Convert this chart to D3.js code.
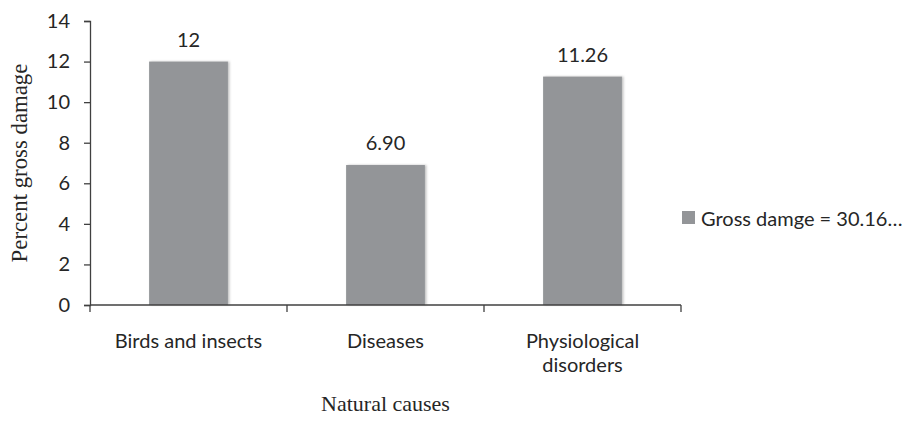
<!DOCTYPE html>
<html>
<head>
<meta charset="utf-8">
<script src="https://cdn.jsdelivr.net/npm/d3@7"></script>
<style>
  html, body { margin: 0; padding: 0; background: #fff; }
  svg { display: block; }
</style>
</head>
<body>
<svg id="chart" width="905" height="421"></svg>
<script>
// Natural causes of gross damage
const categories = ["Birds and insects", "Diseases", "Physiological disorders"];
const categoryLines = [["Birds and insects"], ["Diseases"], ["Physiological", "disorders"]];
const values = [12, 6.90, 11.26];
const valueLabels = ["12", "6.90", "11.26"];
const yTicks = [0, 2, 4, 6, 8, 10, 12, 14];
const seriesName = "Gross damge = 30.16\u2026";

const sansFont = "Lato, 'Open Sans', sans-serif";
const serifFont = "'Liberation Serif', 'DejaVu Serif', serif";
const textColor = "#262626";
const axisColor = "#404040";
const barColor = "#939598";
const sansSize = 20;

const svg = d3.select("#chart");
const plot = { left: 90, right: 681, top: 21, bottom: 305 };

const x = d3.scaleBand()
  .domain(categories)
  .range([plot.left, plot.right])
  .paddingInner(0.6)
  .paddingOuter(0.3);

const y = d3.scaleLinear()
  .domain([0, 14])
  .range([plot.bottom, plot.top]);

// soft shadow on bar edges
const defs = svg.append("defs");
const shadow = defs.append("filter").attr("id", "barShadow")
  .attr("x", "-10%").attr("y", "-10%").attr("width", "130%").attr("height", "120%");
shadow.append("feDropShadow")
  .attr("dx", 1.5).attr("dy", 0).attr("stdDeviation", 1.2)
  .attr("flood-color", "#000").attr("flood-opacity", 0.25);

// bars
svg.append("g").selectAll("rect")
  .data(values)
  .join("rect")
  .attr("x", (d, i) => x(categories[i]))
  .attr("y", d => y(d))
  .attr("width", x.bandwidth())
  .attr("height", d => y(0) - y(d))
  .attr("fill", barColor)
  .attr("filter", "url(#barShadow)");

// value labels
svg.append("g").selectAll("text")
  .data(values)
  .join("text")
  .attr("x", (d, i) => x(categories[i]) + x.bandwidth() / 2)
  .attr("y", d => y(d) - 15)
  .attr("text-anchor", "middle")
  .attr("font-family", sansFont)
  .attr("font-size", sansSize)
  .attr("fill", textColor)
  .text((d, i) => valueLabels[i]);

// y axis
const yAxis = svg.append("g")
  .attr("transform", `translate(${plot.left},0)`)
  .call(d3.axisLeft(y).tickValues(yTicks).tickFormat(d3.format("d")).tickSize(6).tickPadding(14));
yAxis.select(".domain").attr("stroke", axisColor).attr("stroke-width", 1.3);
yAxis.selectAll(".tick line").attr("stroke", axisColor).attr("stroke-width", 1.3);
yAxis.selectAll(".tick text")
  .attr("font-family", sansFont).attr("font-size", sansSize).attr("fill", textColor);

// x axis with ticks on category boundaries
const xAxisG = svg.append("g").attr("transform", `translate(0,${plot.bottom})`);
xAxisG.append("line")
  .attr("x1", plot.left).attr("x2", plot.right)
  .attr("stroke", axisColor).attr("stroke-width", 1.3);
const boundaries = d3.range(categories.length + 1).map(i => plot.left + i * (plot.right - plot.left) / categories.length);
xAxisG.selectAll("line.tick")
  .data(boundaries)
  .join("line")
  .attr("class", "tick")
  .attr("x1", d => d).attr("x2", d => d)
  .attr("y1", 0).attr("y2", 7)
  .attr("stroke", axisColor).attr("stroke-width", 1.3);

// category labels
const catG = svg.append("g");
categories.forEach((c, i) => {
  const cx = x(c) + x.bandwidth() / 2;
  const t = catG.append("text")
    .attr("x", cx)
    .attr("y", 348)
    .attr("text-anchor", "middle")
    .attr("font-family", sansFont)
    .attr("font-size", sansSize)
    .attr("fill", textColor);
  categoryLines[i].forEach((line, j) => {
    t.append("tspan")
      .attr("x", cx)
      .attr("dy", j === 0 ? 0 : 24)
      .text(line);
  });
});

// axis titles
svg.append("text")
  .attr("x", (plot.left + plot.right) / 2)
  .attr("y", 411)
  .attr("text-anchor", "middle")
  .attr("font-family", serifFont)
  .attr("font-size", 22)
  .attr("fill", textColor)
  .text("Natural causes");

svg.append("text")
  .attr("transform", "translate(27,163) rotate(-90)")
  .attr("text-anchor", "middle")
  .attr("font-family", serifFont)
  .attr("font-size", 22.8)
  .attr("fill", textColor)
  .text("Percent gross damage");

// legend
const legend = svg.append("g").attr("transform", "translate(682,211)");
legend.append("rect")
  .attr("width", 13).attr("height", 13)
  .attr("fill", barColor);
legend.append("text")
  .attr("x", 19).attr("y", 6.5)
  .attr("dominant-baseline", "central")
  .attr("font-family", sansFont)
  .attr("font-size", sansSize)
  .attr("fill", textColor)
  .text(seriesName);
</script>
</body>
</html>
